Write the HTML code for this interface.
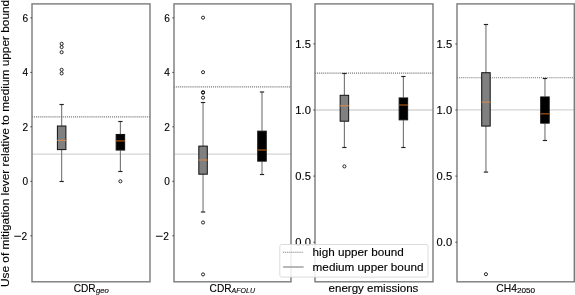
<!DOCTYPE html><html><head><meta charset="utf-8"><style>html,body{margin:0;padding:0;background:#fff;}svg{display:block;will-change:transform;}text{font-family:"Liberation Sans",sans-serif;fill:#000;stroke:#000;stroke-width:0.12px;}</style></head><body>
<svg width="575" height="295" viewBox="0 0 575 295">
<rect width="575" height="295" fill="#fff"/>
<line x1="32" y1="154.1" x2="150" y2="154.1" stroke="#d4d4d4" stroke-width="1.4"/>
<line x1="32" y1="116.9" x2="150" y2="116.9" stroke="#787878" stroke-width="1.1" stroke-dasharray="1.1 0.95"/>
<line x1="61.65" y1="104.2" x2="61.65" y2="126.0" stroke="#787878" stroke-width="1.15"/>
<line x1="61.65" y1="149.6" x2="61.65" y2="181.2" stroke="#787878" stroke-width="1.15"/>
<line x1="59.50" y1="104.5" x2="63.80" y2="104.5" stroke="#222" stroke-width="1.15"/>
<line x1="59.50" y1="181.5" x2="63.80" y2="181.5" stroke="#222" stroke-width="1.15"/>
<rect x="57.40" y="126.00" width="8.5" height="23.60" fill="#808080" stroke="#111" stroke-width="1"/>
<line x1="57.10" y1="140.4" x2="66.20" y2="140.4" stroke="#d9894a" stroke-width="1.05"/>
<circle cx="61.65" cy="43.8" r="1.55" fill="none" stroke="#111" stroke-width="0.9"/>
<circle cx="61.65" cy="47.1" r="1.55" fill="none" stroke="#111" stroke-width="0.9"/>
<circle cx="61.65" cy="52.2" r="1.55" fill="none" stroke="#111" stroke-width="0.9"/>
<circle cx="61.65" cy="69.8" r="1.55" fill="none" stroke="#111" stroke-width="0.9"/>
<circle cx="61.65" cy="73.4" r="1.55" fill="none" stroke="#111" stroke-width="0.9"/>
<line x1="120.4" y1="121.5" x2="120.4" y2="134.0" stroke="#787878" stroke-width="1.15"/>
<line x1="120.4" y1="150.5" x2="120.4" y2="171.8" stroke="#787878" stroke-width="1.15"/>
<line x1="118.25" y1="121.5" x2="122.55" y2="121.5" stroke="#222" stroke-width="1.15"/>
<line x1="118.25" y1="171.5" x2="122.55" y2="171.5" stroke="#222" stroke-width="1.15"/>
<rect x="116.15" y="134.45" width="8.5" height="15.60" fill="#000" stroke="#111" stroke-width="1"/>
<line x1="115.85" y1="140.9" x2="124.95" y2="140.9" stroke="#9e5012" stroke-width="1.3"/>
<circle cx="120.4" cy="181.3" r="1.55" fill="none" stroke="#111" stroke-width="0.9"/>
<rect x="32" y="3.9" width="118.00" height="277.90" fill="none" stroke="#7a7a7a" stroke-width="1.4"/>
<line x1="30.4" y1="17.9" x2="32" y2="17.9" stroke="#444" stroke-width="1"/>
<text x="28.20" y="21.80" font-size="10.1" text-anchor="end">6</text>
<line x1="30.4" y1="72.4" x2="32" y2="72.4" stroke="#444" stroke-width="1"/>
<text x="28.20" y="76.30" font-size="10.1" text-anchor="end">4</text>
<line x1="30.4" y1="126.8" x2="32" y2="126.8" stroke="#444" stroke-width="1"/>
<text x="28.20" y="130.70" font-size="10.1" text-anchor="end">2</text>
<line x1="30.4" y1="181.3" x2="32" y2="181.3" stroke="#444" stroke-width="1"/>
<text x="28.20" y="185.20" font-size="10.1" text-anchor="end">0</text>
<line x1="30.4" y1="235.8" x2="32" y2="235.8" stroke="#444" stroke-width="1"/>
<text x="27.20" y="239.70" font-size="10.1" text-anchor="end">2</text>
<line x1="14.30" y1="236.25" x2="21.10" y2="236.25" stroke="#000" stroke-width="0.95"/>
<line x1="174" y1="154.1" x2="291" y2="154.1" stroke="#d4d4d4" stroke-width="1.4"/>
<line x1="174" y1="86.9" x2="291" y2="86.9" stroke="#787878" stroke-width="1.1" stroke-dasharray="1.1 0.95"/>
<line x1="203.05" y1="102.2" x2="203.05" y2="146.1" stroke="#787878" stroke-width="1.15"/>
<line x1="203.05" y1="174.2" x2="203.05" y2="212.0" stroke="#787878" stroke-width="1.15"/>
<line x1="200.90" y1="102.5" x2="205.20" y2="102.5" stroke="#222" stroke-width="1.15"/>
<line x1="200.90" y1="212.0" x2="205.20" y2="212.0" stroke="#222" stroke-width="1.15"/>
<rect x="198.80" y="146.10" width="8.5" height="28.10" fill="#808080" stroke="#111" stroke-width="1"/>
<line x1="198.50" y1="160.0" x2="207.60" y2="160.0" stroke="#d9894a" stroke-width="1.05"/>
<circle cx="203.05" cy="17.7" r="1.55" fill="none" stroke="#111" stroke-width="0.9"/>
<circle cx="203.05" cy="72.2" r="1.55" fill="none" stroke="#111" stroke-width="0.9"/>
<circle cx="203.05" cy="92.2" r="1.55" fill="none" stroke="#111" stroke-width="0.9"/>
<circle cx="203.05" cy="92.7" r="1.55" fill="none" stroke="#111" stroke-width="0.9"/>
<circle cx="203.05" cy="97.7" r="1.55" fill="none" stroke="#111" stroke-width="0.9"/>
<circle cx="203.05" cy="222.5" r="1.55" fill="none" stroke="#111" stroke-width="0.9"/>
<circle cx="203.05" cy="274.4" r="1.55" fill="none" stroke="#111" stroke-width="0.9"/>
<line x1="262.0" y1="92.0" x2="262.0" y2="130.7" stroke="#787878" stroke-width="1.15"/>
<line x1="262.0" y1="161.6" x2="262.0" y2="174.4" stroke="#787878" stroke-width="1.15"/>
<line x1="259.85" y1="92.0" x2="264.15" y2="92.0" stroke="#222" stroke-width="1.15"/>
<line x1="259.85" y1="174.5" x2="264.15" y2="174.5" stroke="#222" stroke-width="1.15"/>
<rect x="257.75" y="131.15" width="8.5" height="30.00" fill="#000" stroke="#111" stroke-width="1"/>
<line x1="257.45" y1="150.0" x2="266.55" y2="150.0" stroke="#9e5012" stroke-width="1.3"/>
<rect x="174" y="3.9" width="117.00" height="277.90" fill="none" stroke="#7a7a7a" stroke-width="1.4"/>
<line x1="172.4" y1="17.9" x2="174" y2="17.9" stroke="#444" stroke-width="1"/>
<text x="169.80" y="21.80" font-size="10.1" text-anchor="end">6</text>
<line x1="172.4" y1="72.4" x2="174" y2="72.4" stroke="#444" stroke-width="1"/>
<text x="169.80" y="76.30" font-size="10.1" text-anchor="end">4</text>
<line x1="172.4" y1="126.8" x2="174" y2="126.8" stroke="#444" stroke-width="1"/>
<text x="169.80" y="130.70" font-size="10.1" text-anchor="end">2</text>
<line x1="172.4" y1="181.3" x2="174" y2="181.3" stroke="#444" stroke-width="1"/>
<text x="169.80" y="185.20" font-size="10.1" text-anchor="end">0</text>
<line x1="172.4" y1="235.8" x2="174" y2="235.8" stroke="#444" stroke-width="1"/>
<text x="168.80" y="239.70" font-size="10.1" text-anchor="end">2</text>
<line x1="155.90" y1="236.25" x2="162.70" y2="236.25" stroke="#000" stroke-width="0.95"/>
<line x1="315" y1="110.0" x2="433" y2="110.0" stroke="#d4d4d4" stroke-width="1.4"/>
<line x1="315" y1="73.1" x2="433" y2="73.1" stroke="#787878" stroke-width="1.1" stroke-dasharray="1.1 0.95"/>
<line x1="344.4" y1="73.4" x2="344.4" y2="95.3" stroke="#787878" stroke-width="1.15"/>
<line x1="344.4" y1="121.2" x2="344.4" y2="147.4" stroke="#787878" stroke-width="1.15"/>
<line x1="342.25" y1="73.5" x2="346.55" y2="73.5" stroke="#222" stroke-width="1.15"/>
<line x1="342.25" y1="147.5" x2="346.55" y2="147.5" stroke="#222" stroke-width="1.15"/>
<rect x="340.15" y="95.30" width="8.5" height="25.90" fill="#808080" stroke="#111" stroke-width="1"/>
<line x1="339.85" y1="105.8" x2="348.95" y2="105.8" stroke="#d9894a" stroke-width="1.05"/>
<circle cx="344.4" cy="166.4" r="1.55" fill="none" stroke="#111" stroke-width="0.9"/>
<line x1="403.4" y1="76.8" x2="403.4" y2="97.5" stroke="#787878" stroke-width="1.15"/>
<line x1="403.4" y1="120.3" x2="403.4" y2="147.6" stroke="#787878" stroke-width="1.15"/>
<line x1="401.25" y1="76.5" x2="405.55" y2="76.5" stroke="#222" stroke-width="1.15"/>
<line x1="401.25" y1="147.5" x2="405.55" y2="147.5" stroke="#222" stroke-width="1.15"/>
<rect x="399.15" y="97.95" width="8.5" height="21.90" fill="#000" stroke="#111" stroke-width="1"/>
<line x1="398.85" y1="105.0" x2="407.95" y2="105.0" stroke="#9e5012" stroke-width="1.3"/>
<rect x="315" y="3.9" width="118.00" height="277.90" fill="none" stroke="#7a7a7a" stroke-width="1.4"/>
<line x1="313.4" y1="43.9" x2="315" y2="43.9" stroke="#444" stroke-width="1"/>
<text x="310.90" y="47.80" font-size="10.1" text-anchor="end" textLength="15.56" lengthAdjust="spacingAndGlyphs">1.5</text>
<line x1="313.4" y1="110.0" x2="315" y2="110.0" stroke="#444" stroke-width="1"/>
<text x="310.90" y="113.90" font-size="10.1" text-anchor="end" textLength="15.56" lengthAdjust="spacingAndGlyphs">1.0</text>
<line x1="313.4" y1="176.1" x2="315" y2="176.1" stroke="#444" stroke-width="1"/>
<text x="310.90" y="180.00" font-size="10.1" text-anchor="end" textLength="15.56" lengthAdjust="spacingAndGlyphs">0.5</text>
<line x1="313.4" y1="242.2" x2="315" y2="242.2" stroke="#444" stroke-width="1"/>
<text x="310.90" y="246.10" font-size="10.1" text-anchor="end" textLength="15.56" lengthAdjust="spacingAndGlyphs">0.0</text>
<line x1="457" y1="109.9" x2="574.3" y2="109.9" stroke="#d4d4d4" stroke-width="1.4"/>
<line x1="457" y1="77.7" x2="574.3" y2="77.7" stroke="#787878" stroke-width="1.1" stroke-dasharray="1.1 0.95"/>
<line x1="485.95" y1="24.3" x2="485.95" y2="72.7" stroke="#787878" stroke-width="1.15"/>
<line x1="485.95" y1="126.1" x2="485.95" y2="172.1" stroke="#787878" stroke-width="1.15"/>
<line x1="483.80" y1="24.5" x2="488.10" y2="24.5" stroke="#222" stroke-width="1.15"/>
<line x1="483.80" y1="172.1" x2="488.10" y2="172.1" stroke="#222" stroke-width="1.15"/>
<rect x="481.70" y="72.70" width="8.5" height="53.40" fill="#808080" stroke="#111" stroke-width="1"/>
<line x1="481.40" y1="102.1" x2="490.50" y2="102.1" stroke="#d9894a" stroke-width="1.05"/>
<circle cx="485.95" cy="274.2" r="1.55" fill="none" stroke="#111" stroke-width="0.9"/>
<line x1="544.95" y1="78.5" x2="544.95" y2="96.5" stroke="#787878" stroke-width="1.15"/>
<line x1="544.95" y1="123.6" x2="544.95" y2="140.4" stroke="#787878" stroke-width="1.15"/>
<line x1="542.80" y1="78.5" x2="547.10" y2="78.5" stroke="#222" stroke-width="1.15"/>
<line x1="542.80" y1="140.5" x2="547.10" y2="140.5" stroke="#222" stroke-width="1.15"/>
<rect x="540.70" y="96.95" width="8.5" height="26.20" fill="#000" stroke="#111" stroke-width="1"/>
<line x1="540.40" y1="113.8" x2="549.50" y2="113.8" stroke="#9e5012" stroke-width="1.3"/>
<rect x="457" y="3.9" width="117.30" height="277.90" fill="none" stroke="#7a7a7a" stroke-width="1.4"/>
<line x1="455.4" y1="43.9" x2="457" y2="43.9" stroke="#444" stroke-width="1"/>
<text x="452.20" y="47.80" font-size="10.1" text-anchor="end" textLength="15.56" lengthAdjust="spacingAndGlyphs">1.5</text>
<line x1="455.4" y1="110.0" x2="457" y2="110.0" stroke="#444" stroke-width="1"/>
<text x="452.20" y="113.90" font-size="10.1" text-anchor="end" textLength="15.56" lengthAdjust="spacingAndGlyphs">1.0</text>
<line x1="455.4" y1="176.1" x2="457" y2="176.1" stroke="#444" stroke-width="1"/>
<text x="452.20" y="180.00" font-size="10.1" text-anchor="end" textLength="15.56" lengthAdjust="spacingAndGlyphs">0.5</text>
<line x1="455.4" y1="242.2" x2="457" y2="242.2" stroke="#444" stroke-width="1"/>
<text x="452.20" y="246.10" font-size="10.1" text-anchor="end" textLength="15.56" lengthAdjust="spacingAndGlyphs">0.0</text>
<text x="73.7" y="291.8" font-size="10.3" textLength="22.0" lengthAdjust="spacingAndGlyphs">CDR</text>
<text x="96.0" y="293.3" font-size="7.6" font-style="italic" textLength="12.9" lengthAdjust="spacingAndGlyphs">geo</text>
<text x="209.6" y="291.8" font-size="10.3" textLength="22.0" lengthAdjust="spacingAndGlyphs">CDR</text>
<text x="231.6" y="293.3" font-size="7.6" font-style="italic" textLength="23.4" lengthAdjust="spacingAndGlyphs">AFOLU</text>
<text x="328.6" y="291.8" font-size="10.3" textLength="89.8" lengthAdjust="spacingAndGlyphs">energy emissions</text>
<text x="496.3" y="291.8" font-size="10.3" textLength="20.6" lengthAdjust="spacingAndGlyphs">CH4</text>
<text x="516.9" y="293.3" font-size="7.6" textLength="18.2" lengthAdjust="spacingAndGlyphs">2050</text>
<text transform="translate(8.6,287.0) rotate(-90)" x="0" y="0" font-size="10.3" textLength="287.2" lengthAdjust="spacingAndGlyphs">Use of mitigation lever relative to medium upper bound</text>
<rect x="279.8" y="244.5" width="148.2" height="32.6" rx="2" ry="2" fill="#fff" fill-opacity="0.86" stroke="#d8d8d8" stroke-width="0.9"/>
<line x1="283.1" y1="252.2" x2="303.3" y2="252.2" stroke="#787878" stroke-width="1.1" stroke-dasharray="1.1 0.95"/>
<line x1="283.1" y1="267.0" x2="303.6" y2="267.0" stroke="#9a9a9a" stroke-width="1.4"/>
<text x="312.6" y="255.9" font-size="10.3" textLength="91.2" lengthAdjust="spacingAndGlyphs">high upper bound</text>
<text x="312.6" y="270.6" font-size="10.3" textLength="110.9" lengthAdjust="spacingAndGlyphs">medium upper bound</text>
</svg></body></html>
